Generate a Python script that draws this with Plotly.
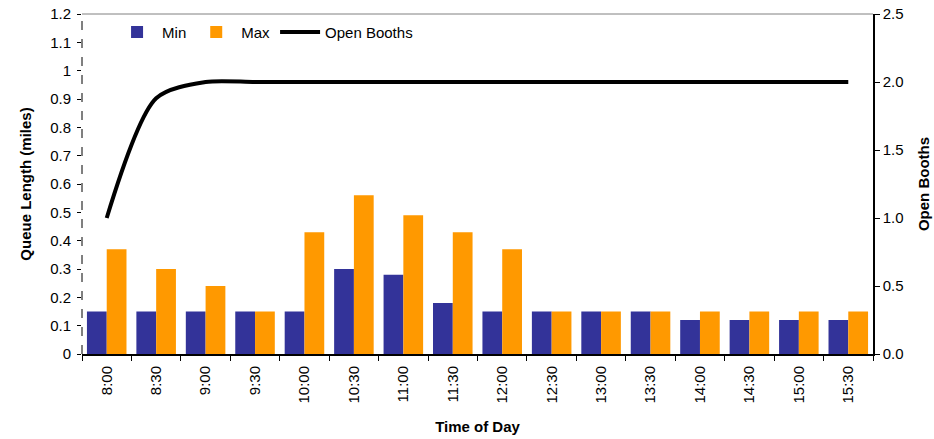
import plotly.graph_objects as go

times = ["8:00", "8:30", "9:00", "9:30", "10:00", "10:30", "11:00", "11:30",
         "12:00", "12:30", "13:00", "13:30", "14:00", "14:30", "15:00", "15:30"]
min_q = [0.15, 0.15, 0.15, 0.15, 0.15, 0.30, 0.28, 0.18,
         0.15, 0.15, 0.15, 0.15, 0.12, 0.12, 0.12, 0.12]
max_q = [0.37, 0.30, 0.24, 0.15, 0.43, 0.56, 0.49, 0.43,
         0.37, 0.15, 0.15, 0.15, 0.15, 0.15, 0.15, 0.15]
open_booths = [1.0, 1.88, 2.0, 2.0, 2.0, 2.0, 2.0, 2.0,
               2.0, 2.0, 2.0, 2.0, 2.0, 2.0, 2.0, 2.0]

FONT = "Liberation Sans, Arial, sans-serif"
FS = 15

fig = go.Figure()
fig.add_trace(go.Bar(x=times, y=min_q, name="Min", marker_color="#333399",
                     marker_line_width=0))
fig.add_trace(go.Bar(x=times, y=max_q, name="Max", marker_color="#FF9900",
                     marker_line_width=0))
fig.add_trace(go.Scatter(x=times, y=open_booths, name="Open Booths", yaxis="y2",
                         mode="lines", line=dict(color="black", width=4,
                                                 shape="spline", smoothing=0.8)))

fig.update_layout(
    width=934, height=439,
    margin=dict(l=82, r=61, t=14, b=85),
    paper_bgcolor="white", plot_bgcolor="white",
    font=dict(family=FONT, size=FS, color="black"),
    barmode="group", bargap=0.2, bargroupgap=0,
    showlegend=True,
    legend=dict(orientation="h", x=0.038, y=0.995, xanchor="left", yanchor="top",
                bgcolor="rgba(0,0,0,0)", font=dict(size=FS), traceorder="normal",
                itemwidth=40, tracegroupgap=0),
    xaxis=dict(
        title=dict(text="<b>Time of Day</b>", font=dict(size=FS), standoff=19),
        tickangle=-90, showline=True, linecolor="black", linewidth=2,
        ticks="outside", tickson="boundaries", ticklen=5, tickcolor="black",
        ticklabelstandoff=4,
        showgrid=False, zeroline=False, tickfont=dict(size=FS), automargin=False,
    ),
    yaxis=dict(
        title=dict(text="<b>Queue Length (miles)</b>", font=dict(size=FS), standoff=14),
        range=[0, 1.2], dtick=0.1, tickformat="~g",
        showline=False, ticks="outside", ticklen=4, tickcolor="black",
        ticklabelstandoff=3, ticklabeloverflow="allow",
        showgrid=False, zeroline=False, tickfont=dict(size=FS), automargin=False,
    ),
    yaxis2=dict(
        title=dict(text="<b>Open Booths</b>", font=dict(size=FS), standoff=16),
        overlaying="y", side="right", range=[0, 2.5], dtick=0.5, tickformat=".1f",
        showline=True, linecolor="black", linewidth=1.5,
        ticks="outside", ticklen=5, tickcolor="black",
        ticklabeloverflow="allow",
        showgrid=False, zeroline=False, tickfont=dict(size=FS), automargin=False,
    ),
    shapes=[
        dict(type="line", xref="paper", yref="paper", x0=0, x1=0, y0=0, y1=1,
             line=dict(color="black", width=1, dash="dash")),
        dict(type="line", xref="paper", yref="paper", x0=0, x1=1, y0=1, y1=1,
             line=dict(color="#808080", width=1)),
    ],
)

fig.write_html("out.html",
               config={"displayModeBar": False},
               post_script="document.body.style.margin='0';document.body.style.overflow='hidden';")
